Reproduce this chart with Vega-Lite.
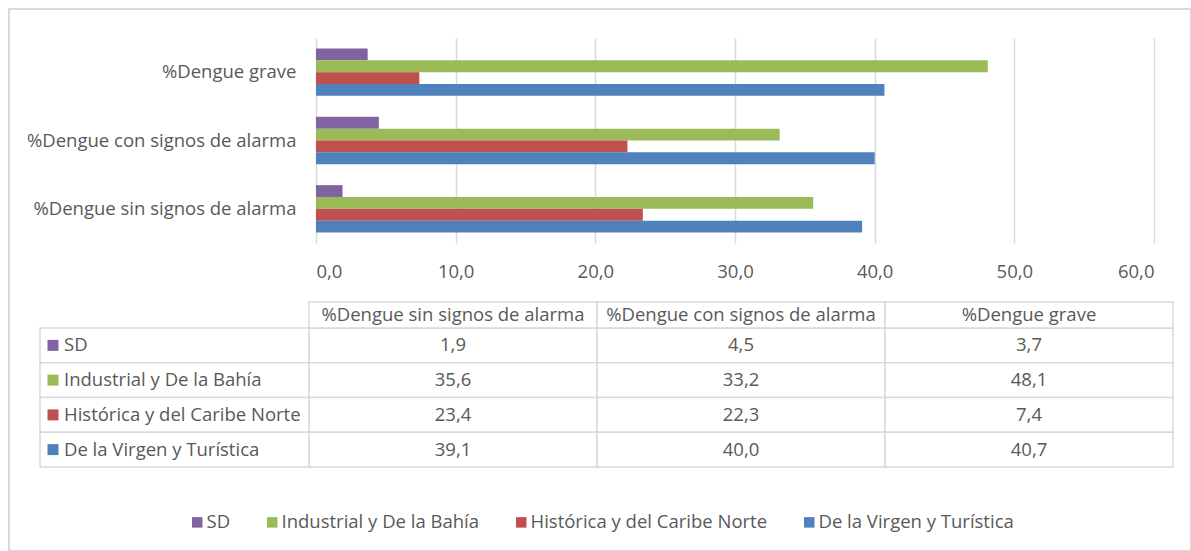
{
  "$schema": "https://vega.github.io/schema/vega-lite/v6.json",
  "width": 1182,
  "height": 542,
  "autosize": {"type": "none"},
  "padding": {"left": 9, "top": 9, "right": 0, "bottom": 0},
  "background": "white",
  "config": {
    "view": {"stroke": "#d9d9d9", "strokeWidth": 2},
    "locale": {"number": {"decimal": ",", "thousands": ".", "grouping": [3], "currency": ["", " €"]}},
    "font": "Open Sans",
    "text": {"font": "Open Sans", "fontSize": 18.5, "color": "#595959"}
  },
  "data": {
    "values": [
      {"category": "%Dengue sin signos de alarma", "series": "SD", "value": 1.9},
      {"category": "%Dengue sin signos de alarma", "series": "Industrial y De la Bahía", "value": 35.6},
      {"category": "%Dengue sin signos de alarma", "series": "Histórica y del Caribe Norte", "value": 23.4},
      {"category": "%Dengue sin signos de alarma", "series": "De la Virgen y Turística", "value": 39.1},
      {"category": "%Dengue con signos de alarma", "series": "SD", "value": 4.5},
      {"category": "%Dengue con signos de alarma", "series": "Industrial y De la Bahía", "value": 33.2},
      {"category": "%Dengue con signos de alarma", "series": "Histórica y del Caribe Norte", "value": 22.3},
      {"category": "%Dengue con signos de alarma", "series": "De la Virgen y Turística", "value": 40.0},
      {"category": "%Dengue grave", "series": "SD", "value": 3.7},
      {"category": "%Dengue grave", "series": "Industrial y De la Bahía", "value": 48.1},
      {"category": "%Dengue grave", "series": "Histórica y del Caribe Norte", "value": 7.4},
      {"category": "%Dengue grave", "series": "De la Virgen y Turística", "value": 40.7}
    ]
  },
  "resolve": {
    "scale": {"x": "independent", "y": "independent"},
    "axis": {"x": "independent", "y": "independent"}
  },
  "layer": [
    {
      "mark": {"type": "bar"},
      "encoding": {
        "x": {
          "field": "value", "type": "quantitative",
          "scale": {"domain": [0, 60], "range": [307, 1145], "nice": false},
          "axis": {
            "orient": "top", "offset": -234, "values": [0, 10, 20, 30, 40, 50, 60],
            "format": ".1f", "domain": false, "ticks": false, "tickSize": 0,
            "grid": true, "gridColor": "#d9d9d9", "gridWidth": 1.5,
            "labelFont": "Open Sans", "labelFontSize": 18.5, "labelColor": "#595959",
            "labelPadding": -28, "labelBaseline": "middle", "title": null
          }
        },
        "y": {
          "field": "category", "type": "nominal",
          "scale": {
            "domain": ["%Dengue grave", "%Dengue con signos de alarma", "%Dengue sin signos de alarma"],
            "range": [29, 234], "paddingInner": 0.307, "paddingOuter": 0.154
          },
          "axis": {
            "orient": "left", "offset": -307, "domain": false, "ticks": false, "tickSize": 0,
            "grid": false, "labelFont": "Open Sans", "labelFontSize": 18.5, "labelColor": "#595959",
            "labelPadding": 20, "labelLimit": 400, "title": null
          }
        },
        "yOffset": {
          "field": "series", "type": "nominal",
          "scale": {
            "domain": ["SD", "Industrial y De la Bahía", "Histórica y del Caribe Norte", "De la Virgen y Turística"],
            "paddingInner": 0, "paddingOuter": 0
          }
        },
        "color": {
          "field": "series", "type": "nominal",
          "scale": {
            "domain": ["SD", "Industrial y De la Bahía", "Histórica y del Caribe Norte", "De la Virgen y Turística"],
            "range": ["#8064A2", "#9BBB59", "#C0504D", "#4F81BD"]
          },
          "legend": {
            "orient": "none", "legendX": 179, "legendY": 504, "direction": "horizontal",
            "title": null, "symbolType": "square", "symbolSize": 110, "symbolStrokeWidth": 0,
            "labelFont": "Open Sans", "labelFontSize": 18.5, "labelColor": "#595959",
            "labelOffset": 0, "columnPadding": 32, "labelLimit": 400
          }
        }
      }
    },
    {
      "mark": {"type": "rect", "fill": "white", "stroke": "#d9d9d9", "strokeWidth": 1.5},
      "encoding": {
        "x": {
          "field": "category", "type": "nominal",
          "scale": {
            "domain": ["%Dengue sin signos de alarma", "%Dengue con signos de alarma", "%Dengue grave"],
            "range": [300, 1164], "paddingInner": 0, "paddingOuter": 0
          },
          "axis": null
        },
        "y": {
          "field": "series", "type": "nominal",
          "scale": {
            "domain": ["SD", "Industrial y De la Bahía", "Histórica y del Caribe Norte", "De la Virgen y Turística"],
            "range": [319, 458], "paddingInner": 0, "paddingOuter": 0
          },
          "axis": null
        }
      }
    },
    {
      "mark": {"type": "text", "align": "center", "baseline": "middle"},
      "encoding": {
        "x": {
          "field": "category", "type": "nominal",
          "scale": {
            "domain": ["%Dengue sin signos de alarma", "%Dengue con signos de alarma", "%Dengue grave"],
            "range": [300, 1164], "paddingInner": 0, "paddingOuter": 0
          },
          "axis": null
        },
        "y": {
          "field": "series", "type": "nominal",
          "scale": {
            "domain": ["SD", "Industrial y De la Bahía", "Histórica y del Caribe Norte", "De la Virgen y Turística"],
            "range": [319, 458], "paddingInner": 0, "paddingOuter": 0
          },
          "axis": null
        },
        "text": {"field": "value", "type": "quantitative", "format": ".1f"}
      }
    },
    {
      "transform": [{"filter": "datum.series === 'SD'"}],
      "mark": {"type": "rect", "fill": "white", "stroke": "#d9d9d9", "strokeWidth": 1.5},
      "encoding": {
        "x": {
          "field": "category", "type": "nominal",
          "scale": {
            "domain": ["%Dengue sin signos de alarma", "%Dengue con signos de alarma", "%Dengue grave"],
            "range": [300, 1164], "paddingInner": 0, "paddingOuter": 0
          },
          "axis": null
        },
        "y": {
          "field": "series", "type": "nominal",
          "scale": {"domain": ["SD"], "range": [293, 319], "paddingInner": 0, "paddingOuter": 0},
          "axis": null
        }
      }
    },
    {
      "transform": [{"filter": "datum.series === 'SD'"}],
      "mark": {"type": "text", "align": "center", "baseline": "middle"},
      "encoding": {
        "x": {
          "field": "category", "type": "nominal",
          "scale": {
            "domain": ["%Dengue sin signos de alarma", "%Dengue con signos de alarma", "%Dengue grave"],
            "range": [300, 1164], "paddingInner": 0, "paddingOuter": 0
          },
          "axis": null
        },
        "y": {
          "field": "series", "type": "nominal",
          "scale": {"domain": ["SD"], "range": [293, 319], "paddingInner": 0, "paddingOuter": 0},
          "axis": null
        },
        "text": {"field": "category", "type": "nominal"}
      }
    },
    {
      "transform": [{"filter": "datum.category === '%Dengue sin signos de alarma'"}],
      "mark": {"type": "rect", "fill": "white", "stroke": "#d9d9d9", "strokeWidth": 1.5},
      "encoding": {
        "x": {
          "field": "category", "type": "nominal",
          "scale": {"domain": ["%Dengue sin signos de alarma"], "range": [31, 300], "paddingInner": 0, "paddingOuter": 0},
          "axis": null
        },
        "y": {
          "field": "series", "type": "nominal",
          "scale": {
            "domain": ["SD", "Industrial y De la Bahía", "Histórica y del Caribe Norte", "De la Virgen y Turística"],
            "range": [319, 458], "paddingInner": 0, "paddingOuter": 0
          },
          "axis": null
        }
      }
    },
    {
      "transform": [{"filter": "datum.category === '%Dengue sin signos de alarma'"}],
      "mark": {"type": "text", "align": "left", "baseline": "middle"},
      "encoding": {
        "x": {
          "field": "category", "type": "nominal",
          "scale": {"domain": ["%Dengue sin signos de alarma"], "range": [31, 79], "paddingInner": 0, "paddingOuter": 0},
          "axis": null
        },
        "y": {
          "field": "series", "type": "nominal",
          "scale": {
            "domain": ["SD", "Industrial y De la Bahía", "Histórica y del Caribe Norte", "De la Virgen y Turística"],
            "range": [319, 458], "paddingInner": 0, "paddingOuter": 0
          },
          "axis": null
        },
        "text": {"field": "series", "type": "nominal"}
      }
    },
    {
      "transform": [{"filter": "datum.category === '%Dengue sin signos de alarma'"}],
      "mark": {"type": "square", "size": 121, "opacity": 1},
      "encoding": {
        "x": {
          "field": "category", "type": "nominal",
          "scale": {"domain": ["%Dengue sin signos de alarma"], "range": [31, 57], "paddingInner": 0, "paddingOuter": 0},
          "axis": null
        },
        "y": {
          "field": "series", "type": "nominal",
          "scale": {
            "domain": ["SD", "Industrial y De la Bahía", "Histórica y del Caribe Norte", "De la Virgen y Turística"],
            "range": [319, 458], "paddingInner": 0, "paddingOuter": 0
          },
          "axis": null
        },
        "color": {
          "field": "series", "type": "nominal",
          "scale": {
            "domain": ["SD", "Industrial y De la Bahía", "Histórica y del Caribe Norte", "De la Virgen y Turística"],
            "range": ["#8064A2", "#9BBB59", "#C0504D", "#4F81BD"]
          },
          "legend": {
            "orient": "none", "legendX": 179, "legendY": 504, "direction": "horizontal",
            "title": null, "symbolType": "square", "symbolSize": 110, "symbolStrokeWidth": 0,
            "labelFont": "Open Sans", "labelFontSize": 18.5, "labelColor": "#595959",
            "labelOffset": 0, "columnPadding": 32, "labelLimit": 400
          }
        }
      }
    }
  ]
}
